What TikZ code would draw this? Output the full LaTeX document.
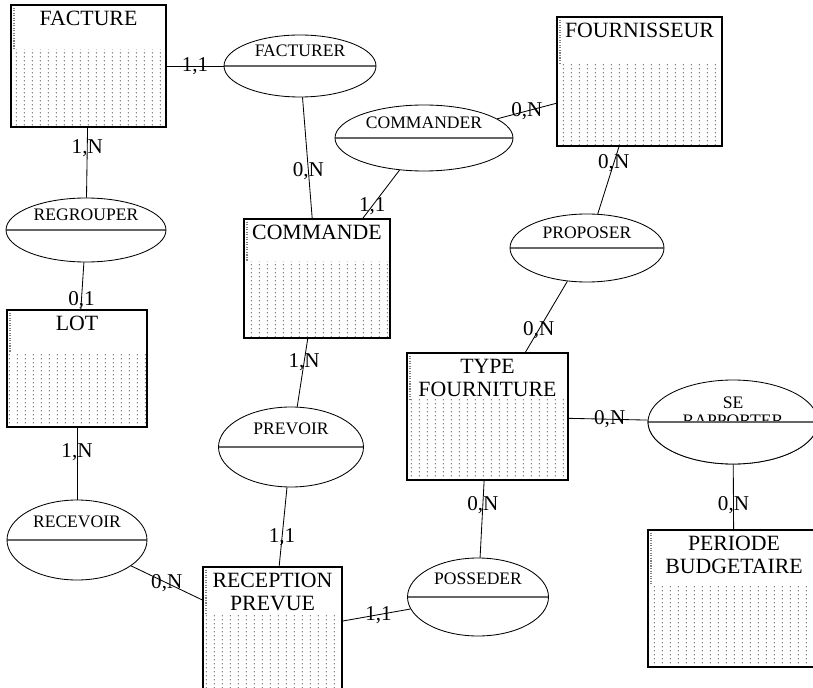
\documentclass[tikz,border=0pt]{standalone}
\usepackage{fontspec}
\setmainfont{Liberation Serif}
\usetikzlibrary{patterns.meta,shapes.geometric}
\newlength\pxu
\setlength\pxu{0.025cm}
\tikzdeclarepattern{
  name=erdots, type=uncolored,
  bounding box={(0,0) and (5.4pt,2.9pt)},
  tile size={(5.4pt,2.9pt)},
  code={\fill (1pt,1pt) circle (0.45pt);}
}
\tikzset{
  entity/.style n args={3}{draw, rectangle, inner sep=0pt, line width=0.8pt,
    minimum width=#1\pxu, minimum height=#2\pxu,
    path picture={
      \fill[pattern=erdots, pattern color=black!85]
        ([yshift=-#3\pxu]path picture bounding box.north west) rectangle (path picture bounding box.south east);
      \draw[densely dotted, black!50] ([xshift=3\pxu]path picture bounding box.north west)
        -- ([xshift=3\pxu,yshift=-#3\pxu]path picture bounding box.north west);
    }},
  title/.style={anchor=north, inner sep=4.5pt, align=center, font=\fontsize{15.5}{16.5}\selectfont},
  relation/.style 2 args={draw, ellipse, inner sep=0pt, line width=0.6pt,
    minimum width=#1\pxu, minimum height=#2\pxu,
    path picture={\draw[black!60, line width=1pt] (path picture bounding box.west) -- (path picture bounding box.east);}},
  rlabel/.style={yshift=15\pxu, inner sep=0pt, align=center, font=\fontsize{12.5}{12.5}\selectfont},
  card/.style={inner sep=0pt, font=\fontsize{15}{16}\selectfont},
  link/.style={line width=0.6pt}
}
\begin{document}
\begin{tikzpicture}[x=0.025cm, y=-0.025cm]
\useasboundingbox (0,0) rectangle (813,688);
% entites
\node[entity={155}{122}{45}, label={[title]north:FACTURE}] (facture) at (88.5,66) {};
\node[entity={165}{129}{48}, label={[title]north:FOURNISSEUR}] (fournisseur) at (639.5,81.5) {};
\node[entity={146}{119}{43}, label={[title]north:COMMANDE}] (commande) at (317,278.5) {};
\node[entity={140}{117}{43}, label={[title]north:LOT}] (lot) at (77,368.5) {};
\node[entity={161}{127}{46}, label={[title]north:{TYPE\\FOURNITURE}}] (typefourn) at (487.5,416.5) {};
\node[entity={139}{133}{46}, label={[title]north:{RECEPTION\\PREVUE}}] (reception) at (272.5,633.5) {};
\node[entity={172}{137}{55}, label={[title]north:{PERIODE\\BUDGETAIRE}}] (periode) at (734,598.5) {};
% associations
\node[relation={152}{62}, label={[rlabel]center:FACTURER}] (facturer) at (300,66) {};
\node[relation={178}{66}, label={[rlabel]center:COMMANDER}] (commander) at (424,138) {};
\node[relation={160}{64}, label={[rlabel]center:REGROUPER}] (regrouper) at (86,230) {};
\node[relation={154}{68}, label={[rlabel]center:PROPOSER}] (proposer) at (587,248) {};
\node[relation={145}{80}, label={[rlabel, yshift=3\pxu]center:PREVOIR}] (prevoir) at (291,447) {};
\node[relation={140}{80}, label={[rlabel, yshift=3\pxu]center:RECEVOIR}] (recevoir) at (77,540) {};
\node[relation={141}{78}, label={[rlabel, yshift=3\pxu]center:POSSEDER}] (posseder) at (478,597) {};
\node[relation={170}{84}, label={[rlabel, yshift=-5\pxu]center:{SE\\RAPPORTER}}] (serap) at (733,422) {};
\begin{scope}
\clip ([yshift=1\pxu]serap.west) rectangle ([yshift=-60\pxu]serap.east);
\node[relation={170}{84}, fill=white] (serapmask) at (serap) {};
\end{scope}
% liens et cardinalites
\draw[link] (facture) -- node[card, pos=.5] (c1) {1,1} (facturer);
\draw[link] (facture) -- node[card, pos=.29] (c2) {1,N} (regrouper);
\draw[link] (lot) -- node[card, pos=.2] (c3) {0,1} (regrouper);
\draw[link] (lot) -- node[card, pos=.34] (c4) {1,N} (recevoir);
\draw[link] (reception) -- node[card, pos=.5] (c5) {0,N} (recevoir);
\draw[link] (commande) -- node[card, pos=.39] (c6) {0,N} (facturer);
\draw[link] (commande) -- node[card, pos=.26] (c7) {1,1} (commander);
\draw[link] (fournisseur) -- node[card, pos=.5] (c8) {0,N} (commander);
\draw[link] (fournisseur) -- node[card, pos=.25] (c9) {0,N} (proposer);
\draw[link] (typefourn) -- node[card, pos=.32] (c10) {0,N} (proposer);
\draw[link] (typefourn) -- node[card, pos=.52] (c11) {0,N} (serap);
\draw[link] (periode) -- node[card, pos=.38] (c12) {0,N} (serap);
\draw[link] (typefourn) -- node[card, pos=.32] (c13) {0,N} (posseder);
\draw[link] (reception) -- node[card, pos=.53] (c14) {1,1} (posseder);
\draw[link] (commande) -- node[card, pos=.35] (c15) {1,N} (prevoir);
\draw[link] (reception) -- node[card, pos=.37] (c16) {1,1} (prevoir);
\end{tikzpicture}
\end{document}
